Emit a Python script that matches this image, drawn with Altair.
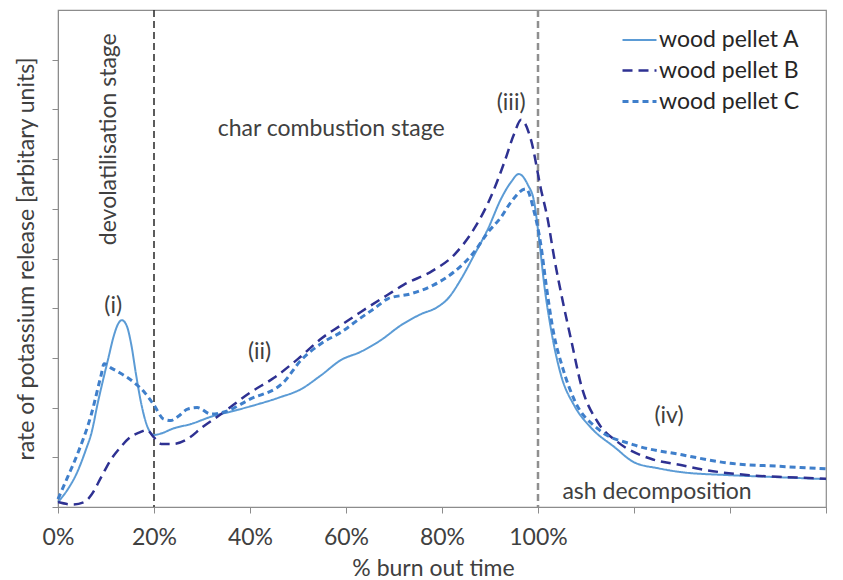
import altair as alt
import pandas as pd

series_names = ["wood pellet A", "wood pellet B", "wood pellet C"]

a_x = [0, 2, 4, 5.8, 7, 8.3, 9.5, 10.5, 11.5, 12.5, 13.3, 14.3, 15.3, 16.2, 17.3, 18.5, 19.5, 20,
       21.5, 24, 27.7, 32, 36, 41, 46, 50.6, 54.8, 59, 63, 67.3, 71.5, 75.6, 79, 81.2, 84, 86.7,
       89.6, 92.3, 94.4, 96, 97.9, 99.2, 100.3, 101.3, 102.7, 104.8, 107.5, 111, 116, 120, 125,
       130, 140, 150, 160]
a_y = [0.1, 0.35, 0.7, 1.15, 1.5, 2.1, 2.6, 3.0, 3.4, 3.68, 3.76, 3.65, 3.25, 2.7, 2.1, 1.65, 1.47, 1.45,
       1.48, 1.58, 1.67, 1.82, 1.92, 2.05, 2.2, 2.37, 2.65, 2.96, 3.12, 3.36, 3.66, 3.88, 4.02, 4.19, 4.59, 5.07,
       5.6, 6.2, 6.54, 6.7, 6.48, 6.14, 5.33, 4.47, 3.58, 2.65, 2.05, 1.6, 1.2, 0.9, 0.78,
       0.7, 0.64, 0.6, 0.56]

b_x = [0, 3, 5.5, 7, 9, 11, 13, 15, 17, 18.5, 20, 21.5, 24, 27, 30, 34, 40, 45, 50, 55, 59, 63,
       68.7, 72, 78, 82.5, 86.7, 90, 93, 95, 96.5, 98.5, 100.6, 102, 103.4, 105.2, 107, 109, 112.5,
       116.7, 123.5, 130, 134, 144, 152, 160]
b_y = [0.1, 0.05, 0.1, 0.25, 0.6, 0.95, 1.2, 1.4, 1.5, 1.55, 1.4, 1.27, 1.27, 1.37, 1.6, 1.87, 2.3, 2.6,
       2.98, 3.4, 3.66, 3.92, 4.27, 4.47, 4.75, 5.07, 5.6, 6.2, 6.94, 7.5, 7.79, 7.4, 6.4, 5.8, 5.0, 4.12,
       3.32, 2.45, 1.7, 1.3, 0.97, 0.84, 0.76, 0.64, 0.6, 0.57]

c_x = [0, 2, 4.2, 6.9, 9, 9.6, 11, 12.5, 15.8, 18, 20, 22, 23.5, 25, 27, 29, 31.9, 34.6, 40, 47,
       50.6, 55, 59, 63, 66, 68.7, 73.5, 78.3, 82.5, 86.7, 89.6, 92.3, 94.4, 97.5, 99.2, 100.6,
       101.7, 103.1, 105.2, 107.5, 112.5, 120, 130, 140, 150, 160]
c_y = [0.16, 0.6, 1.1, 1.85, 2.66, 2.88, 2.8, 2.72, 2.51, 2.31, 2.05, 1.77, 1.74, 1.82, 1.97, 2.0, 1.87,
       1.91, 2.17, 2.51, 2.95, 3.3, 3.52, 3.8, 4.0, 4.19, 4.29, 4.47, 4.73, 5.13, 5.53, 5.83, 6.14, 6.4,
       5.94, 5.27, 4.47, 3.58, 2.78, 2.17, 1.57, 1.25, 1.05, 0.88, 0.82, 0.77]

x_ticks = [0, 20, 40, 60, 80, 100, 120, 140, 160]
y_ticks = [0, 1, 2, 3, 4, 5, 6, 7, 8, 9]
stage_bounds = [20, 100]

ann_text = ["char combustion stage", "(i)", "(ii)", "(iii)", "(iv)", "ash decomposition"]
ann_x = [56.9, 11.5, 42.0, 94.4, 127.3, 124.8]
ann_y = [7.6, 4.05, 3.12, 8.12, 1.83, 0.3]
rot_text = ["devolatilisation stage"]
rot_x = [10.6]
rot_y = [7.4]

FONT = "Lato"
TXT = "#404040"
FS = 23

rows = []
for name, xs, ys in zip(series_names, [a_x, b_x, c_x], [a_y, b_y, c_y]):
    for i, (x, y) in enumerate(zip(xs, ys)):
        rows.append({"series": name, "t": x, "rate": y, "order": i})
df = pd.DataFrame(rows)

leg = dict(title=None, orient="none", legendX=563, legendY=12, labelFontSize=FS,
           labelFont=FONT, labelColor="#262626", symbolType="stroke", symbolSize=1156,
           rowPadding=-4, labelOffset=1, padding=0)

color_scale = alt.Scale(domain=series_names, range=["#5B9BD5", "#2E3192", "#3F7FCB"])
dash_scale = alt.Scale(domain=series_names, range=[[1, 0], [10, 6], [6, 4]])
width_scale = alt.Scale(domain=series_names, range=[2, 3, 2.5])

x_enc = alt.X("t:Q", scale=alt.Scale(domain=[0, 160], nice=False),
              axis=alt.Axis(values=x_ticks, labelFlush=False,
                            labelExpr="datum.value <= 100 ? datum.value + '%' : ''",
                            title="% burn out time", titleX=375))
y_enc = alt.Y("rate:Q", scale=alt.Scale(domain=[0, 10], nice=False),
              axis=alt.Axis(values=y_ticks, labels=False,
                            title="rate of potassium release [arbitary units]"))

lines = alt.Chart(df).mark_line(interpolate="monotone").encode(
    x=x_enc,
    y=y_enc,
    color=alt.Color("series:N", scale=color_scale, legend=alt.Legend(**leg)),
    strokeDash=alt.StrokeDash("series:N", scale=dash_scale, legend=alt.Legend(**leg)),
    strokeWidth=alt.StrokeWidth("series:N", scale=width_scale, legend=alt.Legend(**leg)),
    order="order:Q",
)

rule_a = alt.Chart(pd.DataFrame({"t": [stage_bounds[0]]})).mark_rule(
    color="#333333", strokeDash=[7, 4], strokeWidth=1.6).encode(x="t:Q")
rule_b = alt.Chart(pd.DataFrame({"t": [stage_bounds[1]]})).mark_rule(
    color="#8f8f8f", strokeDash=[7, 4], strokeWidth=2.5).encode(x="t:Q")

ann_df = pd.DataFrame({"label": ann_text, "t": ann_x, "rate": ann_y})
ann = alt.Chart(ann_df).mark_text(font=FONT, fontSize=FS, color=TXT).encode(
    x="t:Q", y="rate:Q", text="label:N")

rot_df = pd.DataFrame({"label": rot_text, "t": rot_x, "rate": rot_y})
rot = alt.Chart(rot_df).mark_text(font=FONT, fontSize=FS, color=TXT, angle=270).encode(
    x="t:Q", y="rate:Q", text="label:N")

chart = alt.layer(rule_a, rule_b, lines, ann, rot).properties(
    width=768, height=497,
    padding={"left": 7, "top": 0, "right": 0, "bottom": 0},
).configure_view(
    stroke="#8c8c8c", strokeWidth=1.2
).configure_axis(
    grid=False, domainColor="#8c8c8c", tickColor="#8c8c8c", tickSize=6,
    labelFont=FONT, labelFontSize=FS, labelColor=TXT, labelPadding=13,
    titleFont=FONT, titleFontSize=FS, titleColor=TXT, titleFontWeight="normal",
).configure_axisX(titlePadding=8).configure_axisY(titlePadding=13)

chart.save("out.html", embed_options={"renderer": "svg", "actions": False})
